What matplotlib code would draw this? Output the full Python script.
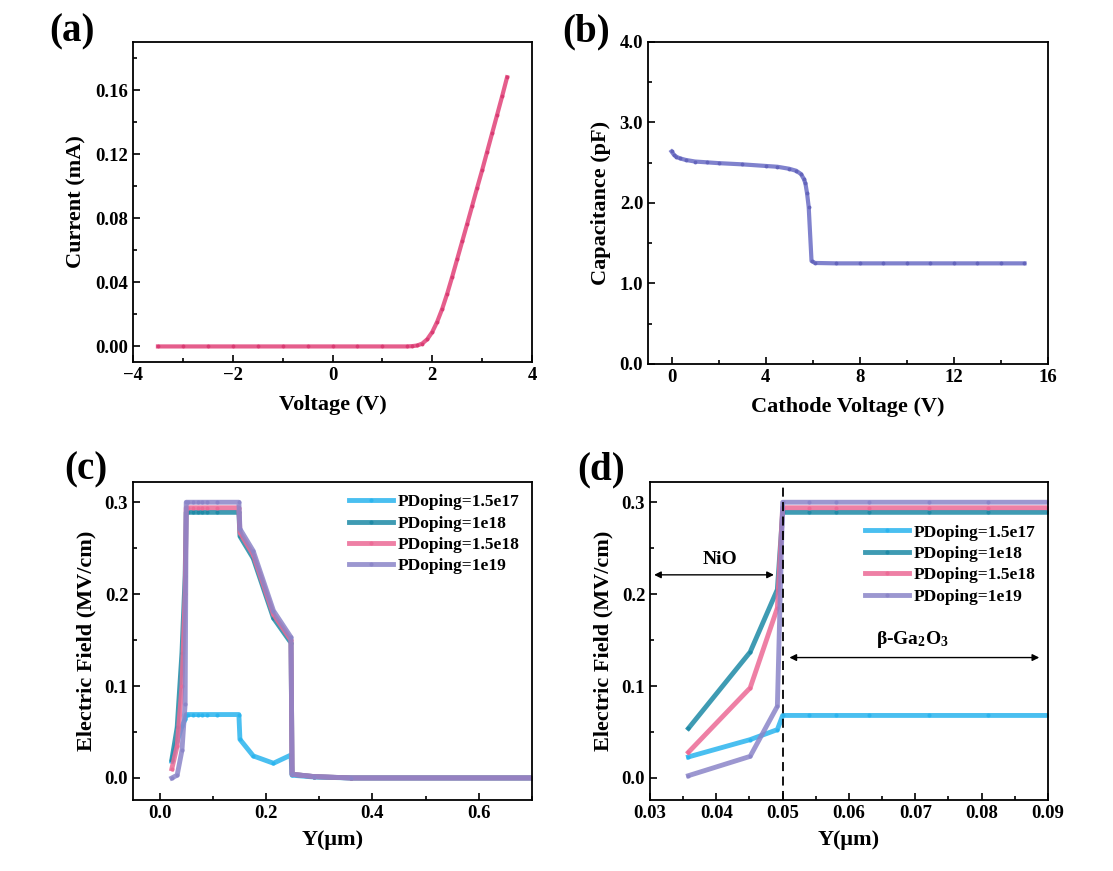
import numpy as np
import matplotlib
matplotlib.use("Agg")
import matplotlib.pyplot as plt
from matplotlib.ticker import MultipleLocator, FormatStrFormatter

plt.rcParams['font.family'] = ['Liberation Serif', 'DejaVu Serif']
plt.rcParams['font.weight'] = 'bold'
plt.rcParams['axes.labelweight'] = 'bold'
plt.rcParams['mathtext.fontset'] = 'custom'
plt.rcParams['mathtext.rm'] = 'Liberation Serif:bold'
plt.rcParams['mathtext.it'] = 'Liberation Serif:bold'
plt.rcParams['mathtext.bf'] = 'Liberation Serif:bold'

# (a) I-V
iv_voltage = [-3.5, -3.0, -2.5, -2.0, -1.5, -1.0, -0.5, 0.0, 0.5, 1.0, 1.5,
              1.6, 1.7, 1.8, 1.9, 2.0, 2.1, 2.2, 2.3, 2.4, 2.5, 2.6, 2.7,
              2.8, 2.9, 3.0, 3.1, 3.2, 3.3, 3.4, 3.5]
iv_current = [0.0, 0.0, 0.0, 0.0, 0.0, 0.0, 0.0, 0.0, 0.0, 0.0, 0.0,
              0.0002, 0.0006, 0.0018, 0.0045, 0.009, 0.0155, 0.0235, 0.033,
              0.0435, 0.0545, 0.0655, 0.0765, 0.0877, 0.099, 0.110, 0.1215,
              0.133, 0.1445, 0.156, 0.168]

# (b) C-V
cv_voltage = [0.0, 0.1, 0.2, 0.35, 0.6, 1.0, 1.5, 2.0, 3.0, 4.0, 4.5, 5.0,
              5.3, 5.5, 5.62, 5.69, 5.76, 5.83, 5.95, 6.1, 7, 8, 9, 10, 11,
              12, 13, 14, 15]
cv_cap = [2.64, 2.60, 2.575, 2.555, 2.535, 2.515, 2.505, 2.495, 2.48, 2.46,
          2.45, 2.425, 2.40, 2.36, 2.30, 2.245, 2.12, 1.95, 1.28, 1.255,
          1.25, 1.25, 1.25, 1.25, 1.25, 1.25, 1.25, 1.25, 1.25]

labels = ['PDoping=1.5e17', 'PDoping=1e18', 'PDoping=1.5e18', 'PDoping=1e19']
colors = ['#2ab4ee', '#1d8aa6', '#ec6a96', '#8b85c8']

# (c) field profile, full depth
c_y = [0.023, 0.033, 0.042, 0.048, 0.05, 0.054, 0.063, 0.073, 0.08, 0.09,
       0.108, 0.149, 0.151, 0.176, 0.214, 0.247, 0.249, 0.29, 0.36, 0.70]
c_field_15e17 = [0.018, 0.040, 0.056, 0.064, 0.069, 0.069, 0.069, 0.069, 0.069,
                 0.069, 0.069, 0.069, 0.042, 0.024, 0.016, 0.025, 0.003,
                 0.001, 0.0, 0.0]
c_field_1e18 = [0.020, 0.055, 0.136, 0.22, 0.289, 0.289, 0.289, 0.289, 0.289,
                0.289, 0.289, 0.289, 0.263, 0.239, 0.174, 0.147, 0.004,
                0.0015, 0.0, 0.0]
c_field_15e18 = [0.010, 0.035, 0.10, 0.20, 0.294, 0.294, 0.294, 0.294, 0.294,
                 0.294, 0.294, 0.294, 0.267, 0.243, 0.178, 0.150, 0.004,
                 0.0015, 0.0, 0.0]
c_field_1e19 = [0.0, 0.003, 0.03, 0.08, 0.300, 0.300, 0.300, 0.300, 0.300,
                0.300, 0.300, 0.300, 0.271, 0.247, 0.182, 0.153, 0.004,
                0.0015, 0.0, 0.0]

# (d) field profile, zoom near the junction
d_y = [0.0358, 0.0451, 0.0492, 0.0500, 0.054, 0.058, 0.063, 0.072, 0.081, 0.09, 0.1]
d_field_15e17 = [0.0229, 0.0417, 0.0526, 0.068, 0.068, 0.068, 0.068, 0.068, 0.068, 0.068, 0.068]
d_field_1e18 = [0.054, 0.137, 0.205, 0.289, 0.289, 0.289, 0.289, 0.289, 0.289, 0.289, 0.289]
d_field_15e18 = [0.028, 0.098, 0.185, 0.294, 0.294, 0.294, 0.294, 0.294, 0.294, 0.294, 0.294]
d_field_1e19 = [0.0025, 0.0235, 0.078, 0.300, 0.300, 0.300, 0.300, 0.300, 0.300, 0.300, 0.300]

TICK = 13.5
LABEL = 16


def style(ax):
    ax.tick_params(which='both', direction='in', labelsize=TICK, width=1.2)
    ax.tick_params(which='major', length=5)
    ax.tick_params(which='minor', length=3)
    for s in ax.spines.values():
        s.set_linewidth(1.3)
    for lab in ax.get_xticklabels() + ax.get_yticklabels():
        lab.set_fontweight('bold')


fig = plt.figure(figsize=(11.13, 8.71), dpi=100)
ax_a = fig.add_axes([0.1195, 0.5844, 0.3585, 0.3674])
ax_b = fig.add_axes([0.5822, 0.5821, 0.3594, 0.3697])
ax_c = fig.add_axes([0.1195, 0.0815, 0.3585, 0.3651])
ax_d = fig.add_axes([0.5840, 0.0815, 0.3576, 0.3651])

# (a)
ax_a.plot(iv_voltage, iv_current, color='#e34c80', lw=3, alpha=0.9,
          marker='o', ms=1.8, mec='#d93a72', mfc='#d93a72')
ax_a.set_xlim(-4, 4)
ax_a.set_ylim(-0.0097, 0.19)
ax_a.xaxis.set_major_locator(MultipleLocator(2))
ax_a.xaxis.set_minor_locator(MultipleLocator(1))
ax_a.yaxis.set_major_locator(MultipleLocator(0.04))
ax_a.yaxis.set_minor_locator(MultipleLocator(0.02))
ax_a.yaxis.set_major_formatter(FormatStrFormatter('%.2f'))
ax_a.set_xlabel('Voltage (V)', fontsize=LABEL, labelpad=8)
ax_a.set_ylabel('Current (mA)', fontsize=LABEL, labelpad=6)
style(ax_a)

# (b)
ax_b.plot(cv_voltage, cv_cap, color='#7274c8', lw=3, alpha=0.9,
          marker='o', ms=1.8, mec='#6263bb', mfc='#6263bb')
ax_b.set_xlim(-1, 16)
ax_b.set_ylim(0, 4)
ax_b.xaxis.set_major_locator(MultipleLocator(4))
ax_b.xaxis.set_minor_locator(MultipleLocator(2))
ax_b.yaxis.set_major_locator(MultipleLocator(1))
ax_b.yaxis.set_minor_locator(MultipleLocator(0.5))
ax_b.yaxis.set_major_formatter(FormatStrFormatter('%.1f'))
ax_b.set_xlabel('Cathode Voltage (V)', fontsize=LABEL, labelpad=8)
ax_b.set_ylabel('Capacitance (pF)', fontsize=LABEL, labelpad=6)
style(ax_b)

# (c)
for vals, col, lab in zip([c_field_15e17, c_field_1e18, c_field_15e18, c_field_1e19],
                          colors, labels):
    ax_c.plot(c_y, vals, color=col, lw=3.5, alpha=0.85, label=lab,
              marker='o', ms=2, mfc=col, mec=col)
ax_c.set_xlim(-0.05, 0.70)
ax_c.set_ylim(-0.024, 0.322)
ax_c.xaxis.set_major_locator(MultipleLocator(0.2))
ax_c.xaxis.set_minor_locator(MultipleLocator(0.1))
ax_c.yaxis.set_major_locator(MultipleLocator(0.1))
ax_c.yaxis.set_minor_locator(MultipleLocator(0.05))
ax_c.xaxis.set_major_formatter(FormatStrFormatter('%.1f'))
ax_c.yaxis.set_major_formatter(FormatStrFormatter('%.1f'))
ax_c.set_xlabel('Y(μm)', fontsize=LABEL, labelpad=6)
ax_c.set_ylabel('Electric Field (MV/cm)', fontsize=LABEL, labelpad=6)
ax_c.legend(loc='upper right', bbox_to_anchor=(1.0, 1.0), frameon=False,
            prop={'size': 12.5, 'weight': 'bold'}, handlelength=2.5,
            handletextpad=0.3, labelspacing=0.3, borderaxespad=0.3)
style(ax_c)

# (d)
for vals, col, lab in zip([d_field_15e17, d_field_1e18, d_field_15e18, d_field_1e19],
                          colors, labels):
    ax_d.plot(d_y, vals, color=col, lw=3.5, alpha=0.85, label=lab,
              marker='o', ms=2, mfc=col, mec=col)
ax_d.set_xlim(0.03, 0.09)
ax_d.set_ylim(-0.024, 0.322)
ax_d.axvline(0.05, color='black', ls='--', lw=1.3, dashes=(5, 3))
ax_d.annotate('', xy=(0.0302, 0.221), xytext=(0.0491, 0.221),
              arrowprops=dict(arrowstyle='<|-|>', color='black', lw=1,
                              mutation_scale=10))
ax_d.text(0.0406, 0.238, 'NiO', ha='center', va='center', fontsize=14,
          fontweight='bold')
ax_d.annotate('', xy=(0.0506, 0.131), xytext=(0.0891, 0.131),
              arrowprops=dict(arrowstyle='<|-|>', color='black', lw=1,
                              mutation_scale=10))
ax_d.text(0.0695, 0.151, r'β-Ga$_2$O$_3$', ha='center', va='center',
          fontsize=14, fontweight='bold')
ax_d.xaxis.set_major_locator(MultipleLocator(0.01))
ax_d.xaxis.set_minor_locator(MultipleLocator(0.005))
ax_d.yaxis.set_major_locator(MultipleLocator(0.1))
ax_d.yaxis.set_minor_locator(MultipleLocator(0.05))
ax_d.xaxis.set_major_formatter(FormatStrFormatter('%.2f'))
ax_d.yaxis.set_major_formatter(FormatStrFormatter('%.1f'))
ax_d.set_xlabel('Y(μm)', fontsize=LABEL, labelpad=6)
ax_d.set_ylabel('Electric Field (MV/cm)', fontsize=LABEL, labelpad=6)
ax_d.legend(loc='upper right', bbox_to_anchor=(1.0, 0.905), frameon=False,
            prop={'size': 12.5, 'weight': 'bold'}, handlelength=2.5,
            handletextpad=0.3, labelspacing=0.3, borderaxespad=0.3)
style(ax_d)

# panel letters
for x, y, t in [(0.065, 0.963, '(a)'), (0.527, 0.963, '(b)'),
                (0.077, 0.46, '(c)'), (0.54, 0.46, '(d)')]:
    fig.text(x, y, t, fontsize=28, fontweight='bold', ha='center', va='center')

fig.savefig('out.png', dpi=100)
